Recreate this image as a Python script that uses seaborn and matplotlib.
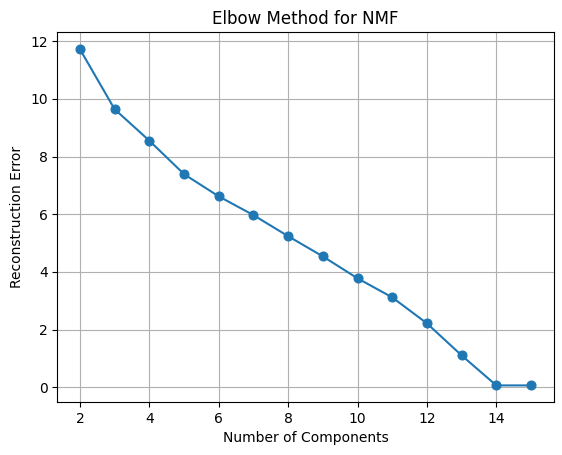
import matplotlib
matplotlib.use("Agg")
import matplotlib.pyplot as plt
import seaborn as sns
import pandas as pd

components = [2, 3, 4, 5, 6, 7, 8, 9, 10, 11, 12, 13, 14, 15]
errors = [11.72, 9.64, 8.55, 7.39, 6.62, 5.97, 5.24, 4.54, 3.78, 3.12, 2.22, 1.11, 0.07, 0.07]

df = pd.DataFrame({"components": components, "error": errors})

fig, ax = plt.subplots(figsize=(5.62, 4.55), dpi=100)
sns.lineplot(data=df, x="components", y="error", marker="o", markersize=6.5,
             markeredgecolor="#1f77b4", color="#1f77b4", ax=ax)
ax.set_title("Elbow Method for NMF")
ax.set_xlabel("Number of Components")
ax.set_ylabel("Reconstruction Error")
ax.grid(True)
fig.subplots_adjust(left=0.102, right=0.985, top=0.929, bottom=0.116)
fig.savefig("out.png")
